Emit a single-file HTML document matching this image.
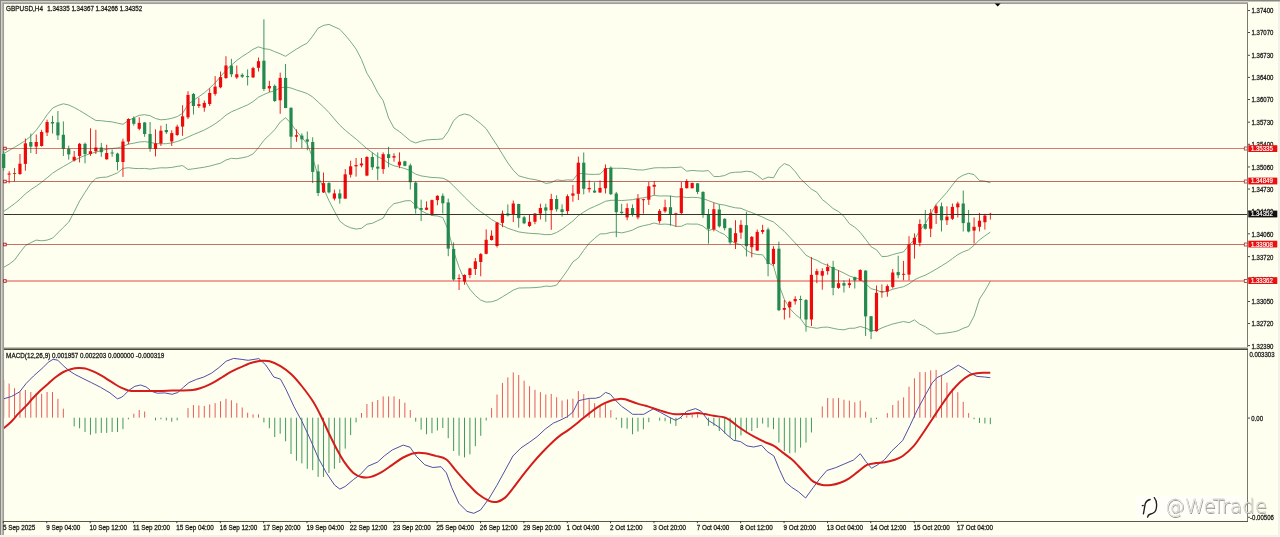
<!DOCTYPE html><html><head><meta charset="utf-8"><title>GBPUSD,H4</title><style>
html,body{margin:0;padding:0;width:1280px;height:537px;overflow:hidden;background:#fffff0;}
svg{display:block;will-change:transform;} text{font-family:"Liberation Sans",Arial,sans-serif;} .t{stroke:#1a1a1a;stroke-width:0.28px;} .w{stroke:#fff;stroke-width:0.2px;}
</style></head><body>
<svg width="1280" height="537" viewBox="0 0 1280 537">
<rect x="0" y="0" width="1280" height="537" fill="#fffff0"/>
<rect x="0" y="0" width="1280" height="1" fill="#898782"/>
<rect x="0" y="1" width="1248" height="1" fill="#d3d1ca"/>
<rect x="0" y="2" width="1248" height="1" fill="#b5b3ab"/>
<rect x="0" y="3" width="1248" height="1" fill="#9f9d95"/>
<rect x="1248" y="1" width="32" height="1" fill="#c4c2ba"/>
<rect x="0" y="0" width="1" height="537" fill="#898782"/>
<rect x="1" y="1" width="1" height="536" fill="#d3d1ca"/>
<rect x="2" y="2" width="1" height="535" fill="#b5b3ab"/>
<rect x="3" y="3" width="1" height="534" fill="#9f9d95"/>
<rect x="4" y="4" width="1" height="517" fill="#fbfbf4"/>
<rect x="4" y="4" width="1243" height="1" fill="#fbfbf4"/>
<rect x="1278" y="2" width="2" height="535" fill="#f3f2ea"/>
<rect x="0" y="535" width="1280" height="2" fill="#f3f3ee"/>
<defs><clipPath id="cm"><rect x="3" y="4" width="1244" height="343"/></clipPath>
<clipPath id="cs"><rect x="4" y="350" width="1243.5" height="171"/></clipPath></defs>
<g fill="none" stroke="#68a078" stroke-width="0.9">
<polyline points="3.7,153.6 9.1,150.5 14.5,147.3 20.0,144.0 25.4,140.6 30.8,136.1 36.2,130.2 41.6,122.9 47.1,114.8 52.5,108.2 57.9,105.5 63.3,103.8 68.8,105.0 74.2,107.5 79.6,110.5 85.0,113.8 90.4,117.2 95.9,120.5 101.3,120.7 106.7,121.4 112.1,121.9 117.5,123.1 123.0,124.3 128.4,120.5 133.8,117.9 139.2,115.3 144.6,114.7 150.1,115.7 155.5,118.5 160.9,119.8 166.3,119.4 171.8,118.3 177.2,116.6 182.6,113.3 188.0,104.5 193.4,100.5 198.9,96.6 204.3,92.9 209.7,88.1 215.1,82.9 220.5,76.7 226.0,70.2 231.4,65.2 236.8,60.4 242.2,56.5 247.6,53.1 253.1,49.3 258.5,46.8 263.9,48.7 269.3,49.4 274.8,51.7 280.2,53.8 285.6,56.3 291.0,52.6 296.4,49.1 301.9,45.9 307.3,43.0 312.7,36.1 318.1,28.2 323.5,25.4 329.0,24.4 334.4,26.9 339.8,29.3 345.2,35.1 350.6,41.6 356.1,49.1 361.5,59.5 366.9,73.2 372.3,81.9 377.7,92.7 383.2,100.7 388.6,118.0 394.0,128.0 399.4,131.6 404.9,136.2 410.3,140.8 415.7,143.0 421.1,141.2 426.5,140.0 432.0,139.5 437.4,139.4 442.8,138.8 448.2,131.4 453.6,120.6 459.1,115.6 464.5,114.0 469.9,115.3 475.3,119.5 480.7,123.6 486.2,128.7 491.6,137.1 497.0,145.3 502.4,154.2 507.9,163.0 513.3,170.2 518.7,175.8 524.1,177.4 529.5,178.8 535.0,179.6 540.4,180.9 545.8,183.4 551.2,182.6 556.6,179.9 562.1,180.5 567.5,179.9 572.9,180.1 578.3,173.4 583.7,173.8 589.2,174.3 594.6,174.4 600.0,174.1 605.4,168.8 610.9,168.2 616.3,168.3 621.7,168.3 627.1,168.6 632.5,169.3 638.0,169.9 643.4,170.0 648.8,168.9 654.2,167.9 659.6,167.7 665.1,167.8 670.5,167.6 675.9,167.5 681.3,167.0 686.7,171.2 692.2,170.4 697.6,170.9 703.0,171.1 708.4,170.6 713.9,176.5 719.3,176.5 724.7,175.5 730.1,172.9 735.5,172.2 741.0,172.1 746.4,171.2 751.8,171.9 757.2,175.2 762.6,179.5 768.1,177.1 773.5,177.8 778.9,168.3 784.3,163.6 789.7,165.7 795.2,171.6 800.6,178.9 806.0,184.0 811.4,189.1 816.9,192.3 822.3,199.5 827.7,203.8 833.1,208.6 838.5,211.5 844.0,216.4 849.4,223.7 854.8,227.2 860.2,232.3 865.6,239.2 871.1,246.8 876.5,249.8 881.9,256.6 887.3,256.3 892.7,254.6 898.2,253.2 903.6,251.8 909.0,245.1 914.4,239.7 919.8,230.4 925.3,223.7 930.7,214.2 936.1,204.4 941.5,198.3 947.0,192.2 952.4,185.1 957.8,178.3 963.2,175.2 968.6,173.3 974.1,174.6 979.5,180.6 984.9,181.1 990.3,182.8"/>
<polyline points="3.7,211.4 9.1,207.7 14.5,203.7 20.0,199.2 25.4,193.8 30.8,189.7 36.2,186.1 41.6,182.3 47.1,177.8 52.5,173.2 57.9,169.8 63.3,166.6 68.8,163.4 74.2,160.2 79.6,157.8 85.0,155.4 90.4,153.6 95.9,152.1 101.3,150.6 106.7,149.2 112.1,148.5 117.5,147.9 123.0,146.4 128.4,144.1 133.8,143.2 139.2,142.0 144.6,141.6 150.1,142.4 155.5,143.5 160.9,143.8 166.3,143.7 171.8,142.9 177.2,141.5 182.6,139.5 188.0,137.0 193.4,134.6 198.9,132.3 204.3,130.0 209.7,127.1 215.1,123.8 220.5,119.9 226.0,115.1 231.4,111.8 236.8,109.5 242.2,107.2 247.6,104.9 253.1,101.6 258.5,97.2 263.9,94.5 269.3,92.3 274.8,90.7 280.2,87.9 285.6,87.0 291.0,88.0 296.4,90.0 301.9,91.7 307.3,93.6 312.7,97.0 318.1,102.0 323.5,106.9 329.0,112.6 334.4,119.0 339.8,125.2 345.2,130.2 350.6,134.7 356.1,139.1 361.5,143.9 366.9,148.7 372.3,152.6 377.7,156.7 383.2,159.4 388.6,163.4 394.0,165.8 399.4,167.0 404.9,168.6 410.3,170.7 415.7,174.1 421.1,175.9 426.5,176.7 432.0,177.5 437.4,177.7 442.8,178.2 448.2,180.7 453.6,185.9 459.1,191.5 464.5,197.0 469.9,202.3 475.3,207.5 480.7,211.8 486.2,215.4 491.6,219.5 497.0,222.7 502.4,225.6 507.9,228.3 513.3,230.1 518.7,231.9 524.1,232.7 529.5,233.3 535.0,233.6 540.4,234.0 545.8,234.7 551.2,234.5 556.6,232.5 562.1,229.2 567.5,225.1 572.9,221.0 578.3,215.7 583.7,212.1 589.2,208.8 594.6,206.4 600.0,204.0 605.4,201.3 610.9,200.3 616.3,200.2 621.7,200.6 627.1,200.1 632.5,199.7 638.0,198.5 643.4,197.8 648.8,196.7 654.2,195.4 659.6,196.0 665.1,195.9 670.5,196.1 675.9,196.9 681.3,196.7 686.7,197.6 692.2,197.3 697.6,197.5 703.0,198.6 708.4,200.6 713.9,202.7 719.3,204.3 724.7,205.1 730.1,206.6 735.5,207.8 741.0,208.3 746.4,210.7 751.8,212.6 757.2,214.9 762.6,217.1 768.1,219.8 773.5,221.9 778.9,226.6 784.3,231.4 789.7,237.1 795.2,243.0 800.6,248.8 806.0,255.2 811.4,258.2 816.9,260.3 822.3,263.4 827.7,265.4 833.1,268.4 838.5,270.5 844.0,273.1 849.4,276.0 854.8,277.7 860.2,279.4 865.6,283.6 871.1,288.7 876.5,290.1 881.9,292.3 887.3,291.1 892.7,289.3 898.2,287.9 903.6,286.7 909.0,283.9 914.4,279.8 919.8,277.3 925.3,275.2 930.7,272.3 936.1,269.2 941.5,265.9 947.0,262.5 952.4,258.6 957.8,254.6 963.2,251.8 968.6,249.8 974.1,245.3 979.5,239.8 984.9,235.9 990.3,232.1"/>
<polyline points="3.7,267.3 9.1,264.2 14.5,260.1 20.0,252.5 25.4,245.6 30.8,242.7 36.2,240.1 41.6,240.8 47.1,240.1 52.5,238.2 57.9,232.8 63.3,227.4 68.8,222.0 74.2,211.8 79.6,201.0 85.0,192.4 90.4,184.0 95.9,178.4 101.3,177.4 106.7,177.1 112.1,175.1 117.5,172.8 123.0,168.4 128.4,167.7 133.8,168.4 139.2,168.6 144.6,168.4 150.1,169.1 155.5,168.4 160.9,167.8 166.3,167.9 171.8,167.4 177.2,166.4 182.6,165.6 188.0,169.5 193.4,168.8 198.9,168.0 204.3,167.2 209.7,166.1 215.1,164.6 220.5,163.2 226.0,160.0 231.4,158.3 236.8,158.7 242.2,157.8 247.6,156.6 253.1,153.9 258.5,147.6 263.9,140.3 269.3,135.1 274.8,129.7 280.2,122.0 285.6,117.7 291.0,123.5 296.4,131.0 301.9,137.5 307.3,144.1 312.7,158.0 318.1,175.9 323.5,188.3 329.0,200.8 334.4,211.1 339.8,221.1 345.2,225.4 350.6,227.8 356.1,229.1 361.5,228.3 366.9,224.2 372.3,223.3 377.7,220.7 383.2,218.1 388.6,208.7 394.0,203.6 399.4,202.5 404.9,200.9 410.3,200.6 415.7,205.1 421.1,210.7 426.5,213.4 432.0,215.5 437.4,216.0 442.8,217.5 448.2,230.0 453.6,251.3 459.1,267.4 464.5,280.0 469.9,289.3 475.3,295.5 480.7,300.1 486.2,302.1 491.6,301.8 497.0,300.1 502.4,296.9 507.9,293.5 513.3,290.1 518.7,288.0 524.1,287.9 529.5,287.8 535.0,287.6 540.4,287.1 545.8,286.1 551.2,286.4 556.6,285.1 562.1,277.8 567.5,270.2 572.9,261.9 578.3,258.0 583.7,250.3 589.2,243.2 594.6,238.4 600.0,233.9 605.4,233.8 610.9,232.4 616.3,232.0 621.7,232.9 627.1,231.7 632.5,230.1 638.0,227.2 643.4,225.7 648.8,224.6 654.2,223.0 659.6,224.4 665.1,224.1 670.5,224.5 675.9,226.4 681.3,226.3 686.7,223.9 692.2,224.1 697.6,224.1 703.0,226.1 708.4,230.6 713.9,228.9 719.3,232.1 724.7,234.6 730.1,240.2 735.5,243.4 741.0,244.6 746.4,250.2 751.8,253.3 757.2,254.5 762.6,254.8 768.1,262.5 773.5,265.9 778.9,284.9 784.3,299.2 789.7,308.4 795.2,314.3 800.6,318.7 806.0,326.4 811.4,327.4 816.9,328.3 822.3,327.3 827.7,327.1 833.1,328.3 838.5,329.4 844.0,329.8 849.4,328.3 854.8,328.2 860.2,326.5 865.6,328.0 871.1,330.6 876.5,330.5 881.9,327.9 887.3,325.8 892.7,324.0 898.2,322.7 903.6,321.5 909.0,322.7 914.4,319.9 919.8,324.2 925.3,326.6 930.7,330.4 936.1,334.1 941.5,333.5 947.0,332.9 952.4,332.1 957.8,330.9 963.2,328.3 968.6,326.4 974.1,316.0 979.5,299.0 984.9,290.8 990.3,281.3"/>
</g>
<rect x="3.25" y="151.0" width="0.9" height="19.7" fill="#23894f"/>
<rect x="2.10" y="154.0" width="3.2" height="14.0" fill="#23894f"/>
<rect x="8.67" y="171.2" width="0.9" height="12.1" fill="#ee0a0a"/>
<rect x="7.52" y="173.5" width="3.2" height="1.1" fill="#ee0a0a"/>
<rect x="14.09" y="167.9" width="0.9" height="13.5" fill="#c0401a"/>
<rect x="12.94" y="173.0" width="3.2" height="1.0" fill="#c0401a"/>
<rect x="19.51" y="154.0" width="0.9" height="20.9" fill="#ee0a0a"/>
<rect x="18.36" y="163.7" width="3.2" height="10.3" fill="#ee0a0a"/>
<rect x="24.93" y="138.5" width="0.9" height="32.2" fill="#ee0a0a"/>
<rect x="23.78" y="143.3" width="3.2" height="20.6" fill="#ee0a0a"/>
<rect x="30.36" y="133.5" width="0.9" height="19.5" fill="#23894f"/>
<rect x="29.20" y="142.0" width="3.2" height="4.6" fill="#23894f"/>
<rect x="35.78" y="134.5" width="0.9" height="19.5" fill="#ee0a0a"/>
<rect x="34.63" y="142.0" width="3.2" height="4.6" fill="#ee0a0a"/>
<rect x="41.20" y="129.8" width="0.9" height="16.8" fill="#ee0a0a"/>
<rect x="40.05" y="132.0" width="3.2" height="14.0" fill="#ee0a0a"/>
<rect x="46.62" y="119.6" width="0.9" height="16.4" fill="#ee0a0a"/>
<rect x="45.47" y="122.0" width="3.2" height="10.6" fill="#ee0a0a"/>
<rect x="52.04" y="115.8" width="0.9" height="17.7" fill="#23894f"/>
<rect x="50.89" y="122.0" width="3.2" height="1.5" fill="#23894f"/>
<rect x="57.46" y="111.0" width="0.9" height="29.0" fill="#23894f"/>
<rect x="56.31" y="122.4" width="3.2" height="13.0" fill="#23894f"/>
<rect x="62.88" y="121.4" width="0.9" height="34.6" fill="#23894f"/>
<rect x="61.73" y="134.8" width="3.2" height="14.0" fill="#23894f"/>
<rect x="68.30" y="145.6" width="0.9" height="14.0" fill="#23894f"/>
<rect x="67.15" y="148.8" width="3.2" height="5.6" fill="#23894f"/>
<rect x="73.72" y="151.0" width="0.9" height="10.5" fill="#ee0a0a"/>
<rect x="72.57" y="156.8" width="3.2" height="3.7" fill="#ee0a0a"/>
<rect x="79.14" y="142.9" width="0.9" height="19.5" fill="#ee0a0a"/>
<rect x="77.99" y="143.8" width="3.2" height="12.2" fill="#ee0a0a"/>
<rect x="84.56" y="142.5" width="0.9" height="20.8" fill="#23894f"/>
<rect x="83.42" y="143.8" width="3.2" height="10.2" fill="#23894f"/>
<rect x="89.99" y="128.3" width="0.9" height="27.6" fill="#ee0a0a"/>
<rect x="88.84" y="151.2" width="3.2" height="2.8" fill="#ee0a0a"/>
<rect x="95.41" y="129.8" width="0.9" height="24.2" fill="#ee0a0a"/>
<rect x="94.26" y="147.5" width="3.2" height="3.7" fill="#ee0a0a"/>
<rect x="100.83" y="142.9" width="0.9" height="13.9" fill="#23894f"/>
<rect x="99.68" y="147.5" width="3.2" height="4.7" fill="#23894f"/>
<rect x="106.25" y="144.7" width="0.9" height="14.9" fill="#ee0a0a"/>
<rect x="105.10" y="153.0" width="3.2" height="6.3" fill="#ee0a0a"/>
<rect x="111.67" y="149.4" width="0.9" height="7.4" fill="#23894f"/>
<rect x="110.52" y="152.5" width="3.2" height="1.0" fill="#23894f"/>
<rect x="117.09" y="152.7" width="0.9" height="17.7" fill="#23894f"/>
<rect x="115.94" y="153.6" width="3.2" height="8.4" fill="#23894f"/>
<rect x="122.51" y="138.7" width="0.9" height="38.2" fill="#ee0a0a"/>
<rect x="121.36" y="141.5" width="3.2" height="20.5" fill="#ee0a0a"/>
<rect x="127.93" y="118.2" width="0.9" height="26.1" fill="#ee0a0a"/>
<rect x="126.78" y="119.0" width="3.2" height="22.5" fill="#ee0a0a"/>
<rect x="133.35" y="116.3" width="0.9" height="9.3" fill="#23894f"/>
<rect x="132.20" y="118.2" width="3.2" height="5.6" fill="#23894f"/>
<rect x="138.78" y="117.3" width="0.9" height="13.0" fill="#ee0a0a"/>
<rect x="137.62" y="122.9" width="3.2" height="5.9" fill="#ee0a0a"/>
<rect x="144.20" y="122.0" width="0.9" height="14.8" fill="#23894f"/>
<rect x="143.05" y="122.5" width="3.2" height="11.5" fill="#23894f"/>
<rect x="149.62" y="122.0" width="0.9" height="29.7" fill="#23894f"/>
<rect x="148.47" y="134.0" width="3.2" height="14.6" fill="#23894f"/>
<rect x="155.04" y="129.4" width="0.9" height="27.0" fill="#ee0a0a"/>
<rect x="153.89" y="143.4" width="3.2" height="5.6" fill="#ee0a0a"/>
<rect x="160.46" y="125.6" width="0.9" height="20.4" fill="#ee0a0a"/>
<rect x="159.31" y="130.7" width="3.2" height="12.7" fill="#ee0a0a"/>
<rect x="165.88" y="123.8" width="0.9" height="10.2" fill="#23894f"/>
<rect x="164.73" y="130.0" width="3.2" height="2.2" fill="#23894f"/>
<rect x="171.30" y="130.3" width="0.9" height="15.7" fill="#ee0a0a"/>
<rect x="170.15" y="133.1" width="3.2" height="8.4" fill="#ee0a0a"/>
<rect x="176.72" y="124.7" width="0.9" height="11.2" fill="#ee0a0a"/>
<rect x="175.57" y="126.6" width="3.2" height="8.4" fill="#ee0a0a"/>
<rect x="182.14" y="105.2" width="0.9" height="30.7" fill="#ee0a0a"/>
<rect x="180.99" y="116.3" width="3.2" height="10.3" fill="#ee0a0a"/>
<rect x="187.56" y="91.2" width="0.9" height="27.9" fill="#ee0a0a"/>
<rect x="186.41" y="94.9" width="3.2" height="22.4" fill="#ee0a0a"/>
<rect x="192.99" y="93.0" width="0.9" height="21.5" fill="#23894f"/>
<rect x="191.84" y="94.0" width="3.2" height="12.0" fill="#23894f"/>
<rect x="198.41" y="97.7" width="0.9" height="10.3" fill="#ee0a0a"/>
<rect x="197.26" y="104.2" width="3.2" height="1.8" fill="#ee0a0a"/>
<rect x="203.83" y="100.5" width="0.9" height="11.2" fill="#ee0a0a"/>
<rect x="202.68" y="102.9" width="3.2" height="4.7" fill="#ee0a0a"/>
<rect x="209.25" y="88.3" width="0.9" height="17.7" fill="#ee0a0a"/>
<rect x="208.10" y="93.0" width="3.2" height="11.0" fill="#ee0a0a"/>
<rect x="214.67" y="76.1" width="0.9" height="19.6" fill="#ee0a0a"/>
<rect x="213.52" y="86.6" width="3.2" height="7.3" fill="#ee0a0a"/>
<rect x="220.09" y="71.5" width="0.9" height="16.8" fill="#ee0a0a"/>
<rect x="218.94" y="77.1" width="3.2" height="10.2" fill="#ee0a0a"/>
<rect x="225.51" y="56.2" width="0.9" height="22.7" fill="#ee0a0a"/>
<rect x="224.36" y="65.5" width="3.2" height="12.5" fill="#ee0a0a"/>
<rect x="230.93" y="58.8" width="0.9" height="18.3" fill="#23894f"/>
<rect x="229.78" y="65.5" width="3.2" height="8.8" fill="#23894f"/>
<rect x="236.35" y="65.5" width="0.9" height="13.4" fill="#ee0a0a"/>
<rect x="235.20" y="74.3" width="3.2" height="3.1" fill="#ee0a0a"/>
<rect x="241.77" y="73.3" width="0.9" height="4.7" fill="#23894f"/>
<rect x="240.62" y="74.8" width="3.2" height="1.9" fill="#23894f"/>
<rect x="247.20" y="69.3" width="0.9" height="16.2" fill="#23894f"/>
<rect x="246.05" y="76.1" width="3.2" height="1.0" fill="#23894f"/>
<rect x="252.62" y="66.8" width="0.9" height="11.2" fill="#ee0a0a"/>
<rect x="251.47" y="68.1" width="3.2" height="9.3" fill="#ee0a0a"/>
<rect x="258.04" y="57.5" width="0.9" height="14.0" fill="#ee0a0a"/>
<rect x="256.89" y="61.2" width="3.2" height="6.6" fill="#ee0a0a"/>
<rect x="263.46" y="19.3" width="0.9" height="71.7" fill="#23894f"/>
<rect x="262.31" y="60.7" width="3.2" height="28.3" fill="#23894f"/>
<rect x="268.88" y="80.8" width="0.9" height="11.2" fill="#ee0a0a"/>
<rect x="267.73" y="86.0" width="3.2" height="2.4" fill="#ee0a0a"/>
<rect x="274.30" y="84.5" width="0.9" height="17.5" fill="#23894f"/>
<rect x="273.15" y="85.9" width="3.2" height="15.1" fill="#23894f"/>
<rect x="279.72" y="72.6" width="0.9" height="41.2" fill="#ee0a0a"/>
<rect x="278.57" y="77.9" width="3.2" height="22.4" fill="#ee0a0a"/>
<rect x="285.14" y="64.0" width="0.9" height="44.2" fill="#23894f"/>
<rect x="283.99" y="77.9" width="3.2" height="30.1" fill="#23894f"/>
<rect x="290.56" y="107.3" width="0.9" height="41.0" fill="#23894f"/>
<rect x="289.41" y="107.8" width="3.2" height="28.9" fill="#23894f"/>
<rect x="295.98" y="129.3" width="0.9" height="12.4" fill="#ee0a0a"/>
<rect x="294.83" y="135.2" width="3.2" height="1.5" fill="#ee0a0a"/>
<rect x="301.41" y="133.4" width="0.9" height="14.9" fill="#23894f"/>
<rect x="300.25" y="135.6" width="3.2" height="3.7" fill="#23894f"/>
<rect x="306.83" y="131.5" width="0.9" height="18.8" fill="#23894f"/>
<rect x="305.68" y="139.3" width="3.2" height="2.4" fill="#23894f"/>
<rect x="312.25" y="137.3" width="0.9" height="45.8" fill="#23894f"/>
<rect x="311.10" y="142.0" width="3.2" height="29.9" fill="#23894f"/>
<rect x="317.67" y="164.5" width="0.9" height="31.6" fill="#23894f"/>
<rect x="316.52" y="171.4" width="3.2" height="21.6" fill="#23894f"/>
<rect x="323.09" y="172.5" width="0.9" height="20.5" fill="#ee0a0a"/>
<rect x="321.94" y="183.1" width="3.2" height="9.3" fill="#ee0a0a"/>
<rect x="328.51" y="182.2" width="0.9" height="11.2" fill="#23894f"/>
<rect x="327.36" y="183.1" width="3.2" height="9.3" fill="#23894f"/>
<rect x="333.93" y="189.6" width="0.9" height="10.8" fill="#ee0a0a"/>
<rect x="332.78" y="193.4" width="3.2" height="5.2" fill="#ee0a0a"/>
<rect x="339.35" y="189.3" width="0.9" height="14.3" fill="#23894f"/>
<rect x="338.20" y="193.4" width="3.2" height="5.2" fill="#23894f"/>
<rect x="344.77" y="169.1" width="0.9" height="29.8" fill="#ee0a0a"/>
<rect x="343.62" y="174.3" width="3.2" height="24.3" fill="#ee0a0a"/>
<rect x="350.19" y="160.7" width="0.9" height="16.8" fill="#ee0a0a"/>
<rect x="349.04" y="166.3" width="3.2" height="8.4" fill="#ee0a0a"/>
<rect x="355.62" y="158.0" width="0.9" height="18.6" fill="#ee0a0a"/>
<rect x="354.46" y="165.0" width="3.2" height="1.3" fill="#ee0a0a"/>
<rect x="361.04" y="158.0" width="0.9" height="9.3" fill="#ee0a0a"/>
<rect x="359.89" y="163.5" width="3.2" height="1.9" fill="#ee0a0a"/>
<rect x="366.46" y="156.1" width="0.9" height="20.1" fill="#ee0a0a"/>
<rect x="365.31" y="157.0" width="3.2" height="18.6" fill="#ee0a0a"/>
<rect x="371.88" y="152.4" width="0.9" height="17.6" fill="#23894f"/>
<rect x="370.73" y="157.0" width="3.2" height="10.3" fill="#23894f"/>
<rect x="377.30" y="152.4" width="0.9" height="27.9" fill="#23894f"/>
<rect x="376.15" y="166.7" width="3.2" height="1.9" fill="#23894f"/>
<rect x="382.72" y="152.4" width="0.9" height="21.4" fill="#ee0a0a"/>
<rect x="381.57" y="154.2" width="3.2" height="14.9" fill="#ee0a0a"/>
<rect x="388.14" y="146.8" width="0.9" height="20.5" fill="#23894f"/>
<rect x="386.99" y="154.2" width="3.2" height="3.8" fill="#23894f"/>
<rect x="393.56" y="153.3" width="0.9" height="8.4" fill="#ee0a0a"/>
<rect x="392.41" y="156.1" width="3.2" height="1.5" fill="#ee0a0a"/>
<rect x="398.98" y="152.4" width="0.9" height="15.8" fill="#ee0a0a"/>
<rect x="397.83" y="161.7" width="3.2" height="3.7" fill="#ee0a0a"/>
<rect x="404.40" y="160.7" width="0.9" height="5.6" fill="#23894f"/>
<rect x="403.25" y="161.3" width="3.2" height="4.5" fill="#23894f"/>
<rect x="409.83" y="163.5" width="0.9" height="26.0" fill="#23894f"/>
<rect x="408.68" y="165.4" width="3.2" height="16.8" fill="#23894f"/>
<rect x="415.25" y="181.2" width="0.9" height="32.4" fill="#23894f"/>
<rect x="414.10" y="182.6" width="3.2" height="26.0" fill="#23894f"/>
<rect x="420.67" y="199.6" width="0.9" height="21.4" fill="#23894f"/>
<rect x="419.52" y="208.0" width="3.2" height="1.8" fill="#23894f"/>
<rect x="426.09" y="201.4" width="0.9" height="8.8" fill="#ee0a0a"/>
<rect x="424.94" y="207.6" width="3.2" height="2.2" fill="#ee0a0a"/>
<rect x="431.51" y="199.6" width="0.9" height="15.8" fill="#ee0a0a"/>
<rect x="430.36" y="200.1" width="3.2" height="14.4" fill="#ee0a0a"/>
<rect x="436.93" y="195.3" width="0.9" height="9.9" fill="#ee0a0a"/>
<rect x="435.78" y="195.8" width="3.2" height="4.3" fill="#ee0a0a"/>
<rect x="442.35" y="193.4" width="0.9" height="20.1" fill="#23894f"/>
<rect x="441.20" y="195.8" width="3.2" height="7.5" fill="#23894f"/>
<rect x="447.77" y="198.6" width="0.9" height="57.6" fill="#23894f"/>
<rect x="446.62" y="202.4" width="3.2" height="46.2" fill="#23894f"/>
<rect x="453.19" y="242.4" width="0.9" height="38.4" fill="#23894f"/>
<rect x="452.04" y="248.9" width="3.2" height="30.6" fill="#23894f"/>
<rect x="458.61" y="274.3" width="0.9" height="15.7" fill="#ee0a0a"/>
<rect x="457.46" y="278.0" width="3.2" height="1.0" fill="#ee0a0a"/>
<rect x="464.04" y="274.3" width="0.9" height="10.4" fill="#ee0a0a"/>
<rect x="462.88" y="275.0" width="3.2" height="6.5" fill="#ee0a0a"/>
<rect x="469.46" y="267.8" width="0.9" height="10.4" fill="#ee0a0a"/>
<rect x="468.31" y="268.4" width="3.2" height="6.6" fill="#ee0a0a"/>
<rect x="474.88" y="258.0" width="0.9" height="17.0" fill="#ee0a0a"/>
<rect x="473.73" y="261.3" width="3.2" height="7.7" fill="#ee0a0a"/>
<rect x="480.30" y="253.0" width="0.9" height="23.3" fill="#ee0a0a"/>
<rect x="479.15" y="254.1" width="3.2" height="7.9" fill="#ee0a0a"/>
<rect x="485.72" y="229.4" width="0.9" height="24.9" fill="#ee0a0a"/>
<rect x="484.57" y="239.8" width="3.2" height="14.0" fill="#ee0a0a"/>
<rect x="491.14" y="230.3" width="0.9" height="10.3" fill="#ee0a0a"/>
<rect x="489.99" y="235.7" width="3.2" height="4.3" fill="#ee0a0a"/>
<rect x="496.56" y="221.9" width="0.9" height="25.6" fill="#ee0a0a"/>
<rect x="495.41" y="222.5" width="3.2" height="23.5" fill="#ee0a0a"/>
<rect x="501.98" y="210.5" width="0.9" height="16.7" fill="#ee0a0a"/>
<rect x="500.83" y="213.6" width="3.2" height="9.3" fill="#ee0a0a"/>
<rect x="507.40" y="204.4" width="0.9" height="12.1" fill="#23894f"/>
<rect x="506.25" y="213.4" width="3.2" height="2.0" fill="#23894f"/>
<rect x="512.82" y="200.5" width="0.9" height="21.6" fill="#ee0a0a"/>
<rect x="511.67" y="203.5" width="3.2" height="10.9" fill="#ee0a0a"/>
<rect x="518.25" y="203.7" width="0.9" height="24.0" fill="#23894f"/>
<rect x="517.10" y="204.0" width="3.2" height="14.1" fill="#23894f"/>
<rect x="523.67" y="215.8" width="0.9" height="8.4" fill="#23894f"/>
<rect x="522.52" y="217.3" width="3.2" height="6.0" fill="#23894f"/>
<rect x="529.09" y="214.0" width="0.9" height="13.0" fill="#ee0a0a"/>
<rect x="527.94" y="221.8" width="3.2" height="4.2" fill="#ee0a0a"/>
<rect x="534.51" y="213.0" width="0.9" height="11.2" fill="#ee0a0a"/>
<rect x="533.36" y="213.6" width="3.2" height="8.2" fill="#ee0a0a"/>
<rect x="539.93" y="203.7" width="0.9" height="15.8" fill="#ee0a0a"/>
<rect x="538.78" y="208.0" width="3.2" height="5.6" fill="#ee0a0a"/>
<rect x="545.35" y="203.7" width="0.9" height="18.1" fill="#23894f"/>
<rect x="544.20" y="207.4" width="3.2" height="3.2" fill="#23894f"/>
<rect x="550.77" y="193.8" width="0.9" height="36.0" fill="#ee0a0a"/>
<rect x="549.62" y="199.0" width="3.2" height="11.2" fill="#ee0a0a"/>
<rect x="556.19" y="195.3" width="0.9" height="16.4" fill="#23894f"/>
<rect x="555.04" y="199.0" width="3.2" height="10.3" fill="#23894f"/>
<rect x="561.61" y="204.3" width="0.9" height="12.4" fill="#23894f"/>
<rect x="560.46" y="209.3" width="3.2" height="2.7" fill="#23894f"/>
<rect x="567.03" y="194.4" width="0.9" height="20.5" fill="#ee0a0a"/>
<rect x="565.88" y="196.2" width="3.2" height="14.9" fill="#ee0a0a"/>
<rect x="572.46" y="185.0" width="0.9" height="16.8" fill="#ee0a0a"/>
<rect x="571.31" y="193.4" width="3.2" height="2.3" fill="#ee0a0a"/>
<rect x="577.88" y="156.6" width="0.9" height="43.4" fill="#ee0a0a"/>
<rect x="576.73" y="162.7" width="3.2" height="31.1" fill="#ee0a0a"/>
<rect x="583.30" y="152.5" width="0.9" height="41.9" fill="#23894f"/>
<rect x="582.15" y="162.7" width="3.2" height="26.1" fill="#23894f"/>
<rect x="588.72" y="180.4" width="0.9" height="12.1" fill="#ee0a0a"/>
<rect x="587.57" y="187.9" width="3.2" height="1.4" fill="#ee0a0a"/>
<rect x="594.14" y="182.3" width="0.9" height="10.7" fill="#23894f"/>
<rect x="592.99" y="190.6" width="3.2" height="1.9" fill="#23894f"/>
<rect x="599.56" y="180.4" width="0.9" height="12.6" fill="#ee0a0a"/>
<rect x="598.41" y="187.9" width="3.2" height="4.6" fill="#ee0a0a"/>
<rect x="604.98" y="164.4" width="0.9" height="29.1" fill="#ee0a0a"/>
<rect x="603.83" y="168.2" width="3.2" height="20.1" fill="#ee0a0a"/>
<rect x="610.40" y="166.3" width="0.9" height="28.7" fill="#23894f"/>
<rect x="609.25" y="167.8" width="3.2" height="26.4" fill="#23894f"/>
<rect x="615.82" y="191.9" width="0.9" height="45.2" fill="#23894f"/>
<rect x="614.67" y="193.5" width="3.2" height="18.7" fill="#23894f"/>
<rect x="621.24" y="203.8" width="0.9" height="9.9" fill="#23894f"/>
<rect x="620.09" y="211.8" width="3.2" height="1.3" fill="#23894f"/>
<rect x="626.67" y="203.4" width="0.9" height="16.8" fill="#ee0a0a"/>
<rect x="625.52" y="208.1" width="3.2" height="9.3" fill="#ee0a0a"/>
<rect x="632.09" y="204.4" width="0.9" height="12.1" fill="#23894f"/>
<rect x="630.94" y="208.1" width="3.2" height="6.2" fill="#23894f"/>
<rect x="637.51" y="194.1" width="0.9" height="25.2" fill="#ee0a0a"/>
<rect x="636.36" y="198.8" width="3.2" height="18.6" fill="#ee0a0a"/>
<rect x="642.93" y="198.8" width="0.9" height="14.9" fill="#ee0a0a"/>
<rect x="641.78" y="199.2" width="3.2" height="1.0" fill="#ee0a0a"/>
<rect x="648.35" y="182.0" width="0.9" height="22.9" fill="#ee0a0a"/>
<rect x="647.20" y="186.3" width="3.2" height="13.4" fill="#ee0a0a"/>
<rect x="653.77" y="181.1" width="0.9" height="13.9" fill="#ee0a0a"/>
<rect x="652.62" y="184.8" width="3.2" height="1.9" fill="#ee0a0a"/>
<rect x="659.19" y="209.0" width="0.9" height="14.6" fill="#ee0a0a"/>
<rect x="658.04" y="210.9" width="3.2" height="10.2" fill="#ee0a0a"/>
<rect x="664.61" y="199.7" width="0.9" height="13.1" fill="#ee0a0a"/>
<rect x="663.46" y="207.2" width="3.2" height="4.1" fill="#ee0a0a"/>
<rect x="670.03" y="195.6" width="0.9" height="30.2" fill="#23894f"/>
<rect x="668.88" y="207.2" width="3.2" height="7.4" fill="#23894f"/>
<rect x="675.45" y="212.8" width="0.9" height="13.9" fill="#ee0a0a"/>
<rect x="674.30" y="213.3" width="3.2" height="1.7" fill="#ee0a0a"/>
<rect x="680.88" y="182.0" width="0.9" height="32.3" fill="#ee0a0a"/>
<rect x="679.73" y="188.2" width="3.2" height="24.9" fill="#ee0a0a"/>
<rect x="686.30" y="179.2" width="0.9" height="9.3" fill="#ee0a0a"/>
<rect x="685.15" y="181.1" width="3.2" height="7.1" fill="#ee0a0a"/>
<rect x="691.72" y="182.6" width="0.9" height="5.9" fill="#ee0a0a"/>
<rect x="690.57" y="183.0" width="3.2" height="5.2" fill="#ee0a0a"/>
<rect x="697.14" y="183.0" width="0.9" height="11.1" fill="#23894f"/>
<rect x="695.99" y="183.3" width="3.2" height="8.6" fill="#23894f"/>
<rect x="702.56" y="191.3" width="0.9" height="26.5" fill="#23894f"/>
<rect x="701.41" y="191.9" width="3.2" height="22.5" fill="#23894f"/>
<rect x="707.98" y="209.0" width="0.9" height="34.7" fill="#23894f"/>
<rect x="706.83" y="214.0" width="3.2" height="14.8" fill="#23894f"/>
<rect x="713.40" y="202.7" width="0.9" height="28.6" fill="#ee0a0a"/>
<rect x="712.25" y="209.2" width="3.2" height="20.2" fill="#ee0a0a"/>
<rect x="718.82" y="204.3" width="0.9" height="23.3" fill="#23894f"/>
<rect x="717.67" y="209.5" width="3.2" height="16.8" fill="#23894f"/>
<rect x="724.24" y="218.3" width="0.9" height="12.1" fill="#23894f"/>
<rect x="723.09" y="218.8" width="3.2" height="9.4" fill="#23894f"/>
<rect x="729.66" y="227.6" width="0.9" height="16.8" fill="#23894f"/>
<rect x="728.51" y="228.2" width="3.2" height="14.3" fill="#23894f"/>
<rect x="735.09" y="220.2" width="0.9" height="28.8" fill="#ee0a0a"/>
<rect x="733.94" y="233.2" width="3.2" height="9.3" fill="#ee0a0a"/>
<rect x="740.51" y="220.2" width="0.9" height="18.6" fill="#ee0a0a"/>
<rect x="739.36" y="224.8" width="3.2" height="7.8" fill="#ee0a0a"/>
<rect x="745.93" y="211.8" width="0.9" height="44.7" fill="#23894f"/>
<rect x="744.78" y="225.2" width="3.2" height="21.0" fill="#23894f"/>
<rect x="751.35" y="236.0" width="0.9" height="21.4" fill="#ee0a0a"/>
<rect x="750.20" y="236.9" width="3.2" height="10.3" fill="#ee0a0a"/>
<rect x="756.77" y="229.5" width="0.9" height="21.4" fill="#ee0a0a"/>
<rect x="755.62" y="231.9" width="3.2" height="18.6" fill="#ee0a0a"/>
<rect x="762.19" y="224.8" width="0.9" height="9.3" fill="#ee0a0a"/>
<rect x="761.04" y="230.0" width="3.2" height="1.9" fill="#ee0a0a"/>
<rect x="767.61" y="227.6" width="0.9" height="48.7" fill="#23894f"/>
<rect x="766.46" y="229.5" width="3.2" height="34.5" fill="#23894f"/>
<rect x="773.03" y="246.2" width="0.9" height="19.6" fill="#ee0a0a"/>
<rect x="771.88" y="248.8" width="3.2" height="15.2" fill="#ee0a0a"/>
<rect x="778.45" y="241.6" width="0.9" height="69.5" fill="#23894f"/>
<rect x="777.30" y="248.7" width="3.2" height="61.5" fill="#23894f"/>
<rect x="783.87" y="300.0" width="0.9" height="19.5" fill="#ee0a0a"/>
<rect x="782.72" y="308.0" width="3.2" height="1.8" fill="#ee0a0a"/>
<rect x="789.30" y="300.9" width="0.9" height="16.8" fill="#ee0a0a"/>
<rect x="788.15" y="301.8" width="3.2" height="5.6" fill="#ee0a0a"/>
<rect x="794.72" y="296.2" width="0.9" height="8.4" fill="#ee0a0a"/>
<rect x="793.57" y="299.0" width="3.2" height="2.3" fill="#ee0a0a"/>
<rect x="800.14" y="295.7" width="0.9" height="22.9" fill="#23894f"/>
<rect x="798.99" y="299.0" width="3.2" height="1.0" fill="#23894f"/>
<rect x="805.56" y="299.0" width="0.9" height="32.6" fill="#23894f"/>
<rect x="804.41" y="300.0" width="3.2" height="19.5" fill="#23894f"/>
<rect x="810.98" y="257.1" width="0.9" height="68.9" fill="#ee0a0a"/>
<rect x="809.83" y="274.8" width="3.2" height="44.7" fill="#ee0a0a"/>
<rect x="816.40" y="268.8" width="0.9" height="14.4" fill="#ee0a0a"/>
<rect x="815.25" y="271.1" width="3.2" height="3.7" fill="#ee0a0a"/>
<rect x="821.82" y="268.3" width="0.9" height="21.4" fill="#ee0a0a"/>
<rect x="820.67" y="271.1" width="3.2" height="4.6" fill="#ee0a0a"/>
<rect x="827.24" y="263.6" width="0.9" height="11.2" fill="#ee0a0a"/>
<rect x="826.09" y="267.0" width="3.2" height="4.1" fill="#ee0a0a"/>
<rect x="832.66" y="260.8" width="0.9" height="34.5" fill="#23894f"/>
<rect x="831.51" y="267.0" width="3.2" height="20.9" fill="#23894f"/>
<rect x="838.08" y="270.2" width="0.9" height="18.6" fill="#ee0a0a"/>
<rect x="836.93" y="283.2" width="3.2" height="4.7" fill="#ee0a0a"/>
<rect x="843.50" y="280.4" width="0.9" height="12.1" fill="#23894f"/>
<rect x="842.36" y="283.2" width="3.2" height="2.4" fill="#23894f"/>
<rect x="848.93" y="278.5" width="0.9" height="9.4" fill="#ee0a0a"/>
<rect x="847.78" y="283.2" width="3.2" height="1.9" fill="#ee0a0a"/>
<rect x="854.35" y="276.7" width="0.9" height="11.8" fill="#23894f"/>
<rect x="853.20" y="277.2" width="3.2" height="3.2" fill="#23894f"/>
<rect x="859.77" y="269.2" width="0.9" height="11.6" fill="#ee0a0a"/>
<rect x="858.62" y="270.0" width="3.2" height="10.5" fill="#ee0a0a"/>
<rect x="865.19" y="270.2" width="0.9" height="65.8" fill="#23894f"/>
<rect x="864.04" y="270.6" width="3.2" height="45.8" fill="#23894f"/>
<rect x="870.61" y="316.2" width="0.9" height="22.9" fill="#23894f"/>
<rect x="869.46" y="316.2" width="3.2" height="15.4" fill="#23894f"/>
<rect x="876.03" y="285.5" width="0.9" height="46.1" fill="#ee0a0a"/>
<rect x="874.88" y="292.8" width="3.2" height="38.4" fill="#ee0a0a"/>
<rect x="881.45" y="284.4" width="0.9" height="13.3" fill="#c0401a"/>
<rect x="880.30" y="291.0" width="3.2" height="1.2" fill="#c0401a"/>
<rect x="886.87" y="284.4" width="0.9" height="12.3" fill="#ee0a0a"/>
<rect x="885.72" y="286.1" width="3.2" height="5.5" fill="#ee0a0a"/>
<rect x="892.29" y="269.0" width="0.9" height="19.5" fill="#ee0a0a"/>
<rect x="891.14" y="272.5" width="3.2" height="14.4" fill="#ee0a0a"/>
<rect x="897.72" y="255.7" width="0.9" height="22.6" fill="#23894f"/>
<rect x="896.57" y="272.1" width="3.2" height="3.1" fill="#23894f"/>
<rect x="903.14" y="260.9" width="0.9" height="19.4" fill="#ee0a0a"/>
<rect x="901.99" y="273.8" width="3.2" height="1.0" fill="#ee0a0a"/>
<rect x="908.56" y="236.2" width="0.9" height="44.1" fill="#ee0a0a"/>
<rect x="907.41" y="244.5" width="3.2" height="30.1" fill="#ee0a0a"/>
<rect x="913.98" y="233.4" width="0.9" height="25.2" fill="#ee0a0a"/>
<rect x="912.83" y="237.9" width="3.2" height="6.1" fill="#ee0a0a"/>
<rect x="919.40" y="219.4" width="0.9" height="27.0" fill="#ee0a0a"/>
<rect x="918.25" y="224.0" width="3.2" height="18.7" fill="#ee0a0a"/>
<rect x="924.82" y="210.0" width="0.9" height="19.6" fill="#23894f"/>
<rect x="923.67" y="224.0" width="3.2" height="4.7" fill="#23894f"/>
<rect x="930.24" y="209.1" width="0.9" height="28.0" fill="#ee0a0a"/>
<rect x="929.09" y="213.2" width="3.2" height="15.5" fill="#ee0a0a"/>
<rect x="935.66" y="204.5" width="0.9" height="19.5" fill="#ee0a0a"/>
<rect x="934.51" y="206.3" width="3.2" height="6.9" fill="#ee0a0a"/>
<rect x="941.08" y="202.6" width="0.9" height="28.9" fill="#23894f"/>
<rect x="939.93" y="206.3" width="3.2" height="14.0" fill="#23894f"/>
<rect x="946.50" y="206.3" width="0.9" height="18.7" fill="#ee0a0a"/>
<rect x="945.35" y="216.6" width="3.2" height="3.7" fill="#ee0a0a"/>
<rect x="951.93" y="203.5" width="0.9" height="16.5" fill="#ee0a0a"/>
<rect x="950.78" y="206.9" width="3.2" height="11.9" fill="#ee0a0a"/>
<rect x="957.35" y="201.7" width="0.9" height="15.8" fill="#ee0a0a"/>
<rect x="956.20" y="203.5" width="3.2" height="3.8" fill="#ee0a0a"/>
<rect x="962.77" y="190.5" width="0.9" height="41.0" fill="#23894f"/>
<rect x="961.62" y="203.5" width="3.2" height="19.6" fill="#23894f"/>
<rect x="968.19" y="210.0" width="0.9" height="22.4" fill="#23894f"/>
<rect x="967.04" y="222.5" width="3.2" height="9.0" fill="#23894f"/>
<rect x="973.61" y="217.5" width="0.9" height="26.1" fill="#ee0a0a"/>
<rect x="972.46" y="226.8" width="3.2" height="3.8" fill="#ee0a0a"/>
<rect x="979.03" y="212.9" width="0.9" height="18.6" fill="#ee0a0a"/>
<rect x="977.88" y="220.7" width="3.2" height="6.1" fill="#ee0a0a"/>
<rect x="984.45" y="213.8" width="0.9" height="15.8" fill="#ee0a0a"/>
<rect x="983.30" y="215.6" width="3.2" height="6.6" fill="#ee0a0a"/>
<rect x="989.87" y="212.8" width="0.9" height="6.8" fill="#ee0a0a"/>
<rect x="988.72" y="213.8" width="3.2" height="1.1" fill="#ee0a0a"/>
<rect x="4" y="148" width="1244" height="1" fill="rgb(180,0,0)" fill-opacity="0.52"/>
<rect x="4" y="181" width="1244" height="1" fill="rgb(150,0,0)" fill-opacity="0.58"/>
<rect x="4" y="244" width="1244" height="1" fill="rgb(155,0,0)" fill-opacity="0.56"/>
<rect x="4" y="280" width="1244" height="2" fill="rgb(214,0,0)" fill-opacity="0.36"/>
<rect x="4" y="214" width="1244" height="1" fill="#35352c"/>
</g>
<g clip-path="url(#cs)">
<rect x="3.20" y="379.8" width="1" height="37.9" fill="#e85a5a"/>
<rect x="8.62" y="383.5" width="1" height="34.2" fill="#e85a5a"/>
<rect x="14.04" y="388.2" width="1" height="29.5" fill="#e85a5a"/>
<rect x="19.46" y="391.4" width="1" height="26.3" fill="#e85a5a"/>
<rect x="24.88" y="390.0" width="1" height="27.7" fill="#e85a5a"/>
<rect x="30.30" y="392.0" width="1" height="25.7" fill="#e85a5a"/>
<rect x="35.73" y="392.9" width="1" height="24.8" fill="#e85a5a"/>
<rect x="41.15" y="393.8" width="1" height="23.9" fill="#e85a5a"/>
<rect x="46.57" y="392.0" width="1" height="25.7" fill="#e85a5a"/>
<rect x="51.99" y="392.0" width="1" height="25.7" fill="#e85a5a"/>
<rect x="57.41" y="398.8" width="1" height="18.9" fill="#e85a5a"/>
<rect x="62.83" y="408.7" width="1" height="9.0" fill="#e85a5a"/>
<rect x="73.67" y="417.7" width="1" height="8.7" fill="#3d9a5a"/>
<rect x="79.09" y="417.7" width="1" height="10.6" fill="#3d9a5a"/>
<rect x="84.52" y="417.7" width="1" height="14.3" fill="#3d9a5a"/>
<rect x="89.94" y="417.7" width="1" height="17.1" fill="#3d9a5a"/>
<rect x="95.36" y="417.7" width="1" height="15.8" fill="#3d9a5a"/>
<rect x="100.78" y="417.7" width="1" height="15.2" fill="#3d9a5a"/>
<rect x="106.20" y="417.7" width="1" height="15.2" fill="#3d9a5a"/>
<rect x="111.62" y="417.7" width="1" height="14.3" fill="#3d9a5a"/>
<rect x="117.04" y="417.7" width="1" height="14.3" fill="#3d9a5a"/>
<rect x="122.46" y="417.7" width="1" height="11.5" fill="#3d9a5a"/>
<rect x="127.88" y="417.7" width="1" height="1.6" fill="#3d9a5a"/>
<rect x="133.30" y="413.7" width="1" height="4.0" fill="#e85a5a"/>
<rect x="138.72" y="410.0" width="1" height="7.7" fill="#e85a5a"/>
<rect x="144.15" y="411.5" width="1" height="6.2" fill="#e85a5a"/>
<rect x="154.99" y="417.7" width="1" height="2.7" fill="#3d9a5a"/>
<rect x="160.41" y="417.7" width="1" height="1.6" fill="#3d9a5a"/>
<rect x="165.83" y="417.7" width="1" height="2.7" fill="#3d9a5a"/>
<rect x="171.25" y="417.7" width="1" height="4.0" fill="#3d9a5a"/>
<rect x="176.67" y="417.7" width="1" height="2.7" fill="#3d9a5a"/>
<rect x="187.51" y="408.1" width="1" height="9.6" fill="#e85a5a"/>
<rect x="192.94" y="405.0" width="1" height="12.7" fill="#e85a5a"/>
<rect x="198.36" y="405.5" width="1" height="12.2" fill="#e85a5a"/>
<rect x="203.78" y="405.9" width="1" height="11.8" fill="#e85a5a"/>
<rect x="209.20" y="404.4" width="1" height="13.3" fill="#e85a5a"/>
<rect x="214.62" y="403.1" width="1" height="14.6" fill="#e85a5a"/>
<rect x="220.04" y="401.2" width="1" height="16.5" fill="#e85a5a"/>
<rect x="225.46" y="398.8" width="1" height="18.9" fill="#e85a5a"/>
<rect x="230.88" y="400.3" width="1" height="17.4" fill="#e85a5a"/>
<rect x="236.30" y="403.1" width="1" height="14.6" fill="#e85a5a"/>
<rect x="241.72" y="407.5" width="1" height="10.2" fill="#e85a5a"/>
<rect x="247.15" y="412.7" width="1" height="5.0" fill="#e85a5a"/>
<rect x="252.57" y="414.3" width="1" height="3.4" fill="#e85a5a"/>
<rect x="257.99" y="414.3" width="1" height="3.4" fill="#e85a5a"/>
<rect x="263.41" y="417.7" width="1" height="4.7" fill="#3d9a5a"/>
<rect x="268.83" y="417.7" width="1" height="10.6" fill="#3d9a5a"/>
<rect x="274.25" y="417.7" width="1" height="19.3" fill="#3d9a5a"/>
<rect x="279.67" y="417.7" width="1" height="16.0" fill="#3d9a5a"/>
<rect x="285.09" y="417.7" width="1" height="23.6" fill="#3d9a5a"/>
<rect x="290.51" y="417.7" width="1" height="36.3" fill="#3d9a5a"/>
<rect x="295.93" y="417.7" width="1" height="43.0" fill="#3d9a5a"/>
<rect x="301.36" y="417.7" width="1" height="45.7" fill="#3d9a5a"/>
<rect x="306.78" y="417.7" width="1" height="51.1" fill="#3d9a5a"/>
<rect x="312.20" y="417.7" width="1" height="52.5" fill="#3d9a5a"/>
<rect x="317.62" y="417.7" width="1" height="59.2" fill="#3d9a5a"/>
<rect x="323.04" y="417.7" width="1" height="59.2" fill="#3d9a5a"/>
<rect x="328.46" y="417.7" width="1" height="55.2" fill="#3d9a5a"/>
<rect x="333.88" y="417.7" width="1" height="51.1" fill="#3d9a5a"/>
<rect x="339.30" y="417.7" width="1" height="45.2" fill="#3d9a5a"/>
<rect x="344.72" y="417.7" width="1" height="30.9" fill="#3d9a5a"/>
<rect x="350.14" y="417.7" width="1" height="17.4" fill="#3d9a5a"/>
<rect x="355.56" y="417.7" width="1" height="4.7" fill="#3d9a5a"/>
<rect x="360.99" y="413.0" width="1" height="4.7" fill="#e85a5a"/>
<rect x="366.41" y="404.0" width="1" height="13.7" fill="#e85a5a"/>
<rect x="371.83" y="401.8" width="1" height="15.9" fill="#e85a5a"/>
<rect x="377.25" y="400.0" width="1" height="17.7" fill="#e85a5a"/>
<rect x="382.67" y="396.4" width="1" height="21.3" fill="#e85a5a"/>
<rect x="388.09" y="396.4" width="1" height="21.3" fill="#e85a5a"/>
<rect x="393.51" y="396.4" width="1" height="21.3" fill="#e85a5a"/>
<rect x="398.93" y="399.1" width="1" height="18.6" fill="#e85a5a"/>
<rect x="404.35" y="402.7" width="1" height="15.0" fill="#e85a5a"/>
<rect x="409.78" y="410.0" width="1" height="7.7" fill="#e85a5a"/>
<rect x="415.20" y="417.7" width="1" height="3.9" fill="#3d9a5a"/>
<rect x="420.62" y="417.7" width="1" height="12.0" fill="#3d9a5a"/>
<rect x="426.04" y="417.7" width="1" height="16.6" fill="#3d9a5a"/>
<rect x="431.46" y="417.7" width="1" height="15.5" fill="#3d9a5a"/>
<rect x="436.88" y="417.7" width="1" height="12.8" fill="#3d9a5a"/>
<rect x="442.30" y="417.7" width="1" height="10.3" fill="#3d9a5a"/>
<rect x="447.72" y="417.7" width="1" height="20.5" fill="#3d9a5a"/>
<rect x="453.14" y="417.7" width="1" height="33.3" fill="#3d9a5a"/>
<rect x="458.56" y="417.7" width="1" height="37.9" fill="#3d9a5a"/>
<rect x="463.99" y="417.7" width="1" height="39.7" fill="#3d9a5a"/>
<rect x="469.41" y="417.7" width="1" height="36.7" fill="#3d9a5a"/>
<rect x="474.83" y="417.7" width="1" height="28.5" fill="#3d9a5a"/>
<rect x="480.25" y="417.7" width="1" height="18.1" fill="#3d9a5a"/>
<rect x="485.67" y="417.7" width="1" height="2.8" fill="#3d9a5a"/>
<rect x="491.09" y="408.1" width="1" height="9.6" fill="#e85a5a"/>
<rect x="496.51" y="394.5" width="1" height="23.2" fill="#e85a5a"/>
<rect x="501.93" y="382.9" width="1" height="34.8" fill="#e85a5a"/>
<rect x="507.35" y="377.3" width="1" height="40.4" fill="#e85a5a"/>
<rect x="512.77" y="372.4" width="1" height="45.3" fill="#e85a5a"/>
<rect x="518.20" y="375.0" width="1" height="42.7" fill="#e85a5a"/>
<rect x="523.62" y="380.7" width="1" height="37.0" fill="#e85a5a"/>
<rect x="529.04" y="386.2" width="1" height="31.5" fill="#e85a5a"/>
<rect x="534.46" y="389.8" width="1" height="27.9" fill="#e85a5a"/>
<rect x="539.88" y="392.2" width="1" height="25.5" fill="#e85a5a"/>
<rect x="545.30" y="394.5" width="1" height="23.2" fill="#e85a5a"/>
<rect x="550.72" y="393.9" width="1" height="23.8" fill="#e85a5a"/>
<rect x="556.14" y="397.2" width="1" height="20.5" fill="#e85a5a"/>
<rect x="561.56" y="400.5" width="1" height="17.2" fill="#e85a5a"/>
<rect x="566.98" y="399.4" width="1" height="18.3" fill="#e85a5a"/>
<rect x="572.41" y="398.7" width="1" height="19.0" fill="#e85a5a"/>
<rect x="577.83" y="391.1" width="1" height="26.6" fill="#e85a5a"/>
<rect x="583.25" y="394.2" width="1" height="23.5" fill="#e85a5a"/>
<rect x="588.67" y="398.9" width="1" height="18.8" fill="#e85a5a"/>
<rect x="594.09" y="403.2" width="1" height="14.5" fill="#e85a5a"/>
<rect x="599.51" y="405.0" width="1" height="12.7" fill="#e85a5a"/>
<rect x="604.93" y="403.5" width="1" height="14.2" fill="#e85a5a"/>
<rect x="610.35" y="410.1" width="1" height="7.6" fill="#e85a5a"/>
<rect x="615.77" y="417.7" width="1" height="1.7" fill="#3d9a5a"/>
<rect x="621.19" y="417.7" width="1" height="10.1" fill="#3d9a5a"/>
<rect x="626.62" y="417.7" width="1" height="11.0" fill="#3d9a5a"/>
<rect x="632.04" y="417.7" width="1" height="16.6" fill="#3d9a5a"/>
<rect x="637.46" y="417.7" width="1" height="13.8" fill="#3d9a5a"/>
<rect x="642.88" y="417.7" width="1" height="11.6" fill="#3d9a5a"/>
<rect x="648.30" y="417.7" width="1" height="4.5" fill="#3d9a5a"/>
<rect x="659.14" y="417.7" width="1" height="3.0" fill="#3d9a5a"/>
<rect x="664.56" y="417.7" width="1" height="3.5" fill="#3d9a5a"/>
<rect x="669.98" y="417.7" width="1" height="6.0" fill="#3d9a5a"/>
<rect x="675.40" y="417.7" width="1" height="8.2" fill="#3d9a5a"/>
<rect x="680.83" y="417.7" width="1" height="1.3" fill="#3d9a5a"/>
<rect x="686.25" y="415.3" width="1" height="2.4" fill="#e85a5a"/>
<rect x="691.67" y="414.6" width="1" height="3.1" fill="#e85a5a"/>
<rect x="697.09" y="413.5" width="1" height="4.2" fill="#e85a5a"/>
<rect x="707.93" y="417.7" width="1" height="8.1" fill="#3d9a5a"/>
<rect x="713.35" y="417.7" width="1" height="8.1" fill="#3d9a5a"/>
<rect x="718.77" y="417.7" width="1" height="13.3" fill="#3d9a5a"/>
<rect x="724.19" y="417.7" width="1" height="15.9" fill="#3d9a5a"/>
<rect x="729.61" y="417.7" width="1" height="19.3" fill="#3d9a5a"/>
<rect x="735.04" y="417.7" width="1" height="22.2" fill="#3d9a5a"/>
<rect x="740.46" y="417.7" width="1" height="17.7" fill="#3d9a5a"/>
<rect x="745.88" y="417.7" width="1" height="15.5" fill="#3d9a5a"/>
<rect x="751.30" y="417.7" width="1" height="13.3" fill="#3d9a5a"/>
<rect x="756.72" y="417.7" width="1" height="10.3" fill="#3d9a5a"/>
<rect x="762.14" y="417.7" width="1" height="5.9" fill="#3d9a5a"/>
<rect x="767.56" y="417.7" width="1" height="9.7" fill="#3d9a5a"/>
<rect x="772.98" y="417.7" width="1" height="11.5" fill="#3d9a5a"/>
<rect x="778.40" y="417.7" width="1" height="24.9" fill="#3d9a5a"/>
<rect x="783.82" y="417.7" width="1" height="33.4" fill="#3d9a5a"/>
<rect x="789.25" y="417.7" width="1" height="35.6" fill="#3d9a5a"/>
<rect x="794.67" y="417.7" width="1" height="34.9" fill="#3d9a5a"/>
<rect x="800.09" y="417.7" width="1" height="29.9" fill="#3d9a5a"/>
<rect x="805.51" y="417.7" width="1" height="24.9" fill="#3d9a5a"/>
<rect x="810.93" y="417.7" width="1" height="14.8" fill="#3d9a5a"/>
<rect x="821.77" y="406.4" width="1" height="11.3" fill="#e85a5a"/>
<rect x="827.19" y="397.9" width="1" height="19.8" fill="#e85a5a"/>
<rect x="832.61" y="398.3" width="1" height="19.4" fill="#e85a5a"/>
<rect x="838.03" y="397.9" width="1" height="19.8" fill="#e85a5a"/>
<rect x="843.46" y="399.7" width="1" height="18.0" fill="#e85a5a"/>
<rect x="848.88" y="400.6" width="1" height="17.1" fill="#e85a5a"/>
<rect x="854.30" y="402.3" width="1" height="15.4" fill="#e85a5a"/>
<rect x="859.72" y="400.6" width="1" height="17.1" fill="#e85a5a"/>
<rect x="865.14" y="411.7" width="1" height="6.0" fill="#e85a5a"/>
<rect x="870.56" y="417.7" width="1" height="5.2" fill="#3d9a5a"/>
<rect x="875.98" y="417.7" width="1" height="1.4" fill="#3d9a5a"/>
<rect x="886.82" y="413.1" width="1" height="4.6" fill="#e85a5a"/>
<rect x="892.24" y="405.0" width="1" height="12.7" fill="#e85a5a"/>
<rect x="897.67" y="400.6" width="1" height="17.1" fill="#e85a5a"/>
<rect x="903.09" y="397.4" width="1" height="20.3" fill="#e85a5a"/>
<rect x="908.51" y="386.7" width="1" height="31.0" fill="#e85a5a"/>
<rect x="913.93" y="378.3" width="1" height="39.4" fill="#e85a5a"/>
<rect x="919.35" y="372.1" width="1" height="45.6" fill="#e85a5a"/>
<rect x="924.77" y="372.1" width="1" height="45.6" fill="#e85a5a"/>
<rect x="930.19" y="370.3" width="1" height="47.4" fill="#e85a5a"/>
<rect x="935.61" y="369.9" width="1" height="47.8" fill="#e85a5a"/>
<rect x="941.03" y="375.9" width="1" height="41.8" fill="#e85a5a"/>
<rect x="946.45" y="382.6" width="1" height="35.1" fill="#e85a5a"/>
<rect x="951.88" y="388.5" width="1" height="29.2" fill="#e85a5a"/>
<rect x="957.30" y="392.2" width="1" height="25.5" fill="#e85a5a"/>
<rect x="962.72" y="401.9" width="1" height="15.8" fill="#e85a5a"/>
<rect x="968.14" y="413.1" width="1" height="4.6" fill="#e85a5a"/>
<rect x="973.56" y="417.7" width="1" height="1.5" fill="#3d9a5a"/>
<rect x="978.98" y="417.7" width="1" height="5.3" fill="#3d9a5a"/>
<rect x="984.40" y="417.7" width="1" height="5.8" fill="#3d9a5a"/>
<rect x="989.82" y="417.7" width="1" height="6.5" fill="#3d9a5a"/>
<polyline fill="none" stroke="#4f4fa6" stroke-width="1.0" points="3.7,398.8 11.2,396.6 19.6,391.9 26.1,383.5 33.5,376.0 42.9,367.7 48.4,362.1 53.1,359.3 57.8,360.2 63.4,365.8 68.9,370.5 74.5,374.2 82.0,378.0 91.3,382.6 100.6,387.3 110.0,392.9 117.4,398.8 121.1,397.5 123.7,395.6 129.3,390.0 134.9,386.3 140.5,385.0 146.1,386.9 151.7,391.4 157.3,393.2 164.7,392.9 172.2,394.3 177.8,392.5 183.4,387.3 188.9,382.6 196.4,379.4 203.8,377.0 211.3,373.3 218.8,367.7 226.2,361.2 233.7,358.4 241.1,359.3 248.1,360.3 258.9,358.6 265.7,364.9 273.8,377.0 280.5,379.2 285.9,389.2 294.0,406.7 302.1,421.6 310.2,439.1 318.3,458.0 326.4,472.9 334.5,485.0 339.9,489.1 345.3,486.4 353.4,479.6 360.0,474.8 368.1,466.1 377.6,462.1 384.3,455.9 392.4,449.9 403.2,445.1 410.0,447.2 416.7,456.7 424.8,464.8 432.9,467.5 441.0,466.7 446.4,472.9 451.8,487.7 458.9,503.3 467.0,511.4 473.8,513.3 480.5,510.0 488.6,499.2 496.7,485.7 504.8,470.9 512.9,456.0 521.0,447.9 529.1,442.5 537.2,436.6 545.3,429.0 553.4,423.1 560.0,420.3 567.5,416.6 573.0,411.9 578.6,400.7 584.2,399.4 589.8,398.3 595.4,398.3 600.1,397.0 605.6,392.4 610.3,394.2 615.9,400.7 621.5,406.3 627.1,410.1 632.7,414.3 638.3,414.3 643.8,414.3 653.2,408.8 660.6,412.5 668.1,416.6 675.5,420.3 680.0,418.0 686.7,411.3 695.6,408.6 701.2,411.3 707.9,420.2 713.5,423.6 720.2,428.0 726.9,434.7 733.6,440.3 740.3,441.5 747.0,445.9 753.7,447.0 761.6,445.3 767.2,451.5 773.9,456.0 779.4,469.4 785.0,481.7 791.7,487.3 798.4,491.7 805.6,498.0 813.4,487.3 820.1,478.3 826.8,470.5 835.8,467.6 844.7,463.8 853.6,460.0 860.3,453.7 865.9,461.6 871.5,468.3 878.2,464.5 884.9,459.3 891.6,451.1 898.3,444.8 902.8,440.3 909.9,425.8 917.3,409.9 924.8,396.0 932.2,382.9 936.9,377.7 943.4,374.5 950.9,369.9 958.3,365.2 964.8,369.0 971.3,373.6 976.9,376.4 984.4,377.0 990.3,377.7"/>
<path fill="none" stroke="#d41c1c" stroke-width="2.0" stroke-linejoin="round" d="M3.7,428.3 C5.0,427.2 8.7,424.2 11.2,421.7 C13.7,419.2 16.1,416.0 18.6,413.4 C21.1,410.8 23.6,408.5 26.1,405.9 C28.6,403.2 31.0,400.1 33.5,397.5 C36.0,394.9 38.5,392.3 41.0,390.0 C43.5,387.7 45.9,385.7 48.4,383.5 C50.9,381.3 53.4,378.9 55.9,377.0 C58.4,375.1 60.9,373.3 63.4,372.0 C65.9,370.7 68.3,369.8 70.8,369.2 C73.3,368.6 75.8,368.2 78.3,368.1 C80.8,368.0 83.2,368.1 85.7,368.6 C88.2,369.2 90.7,370.3 93.2,371.4 C95.7,372.5 98.1,373.8 100.6,375.2 C103.1,376.6 105.6,378.2 108.1,379.8 C110.6,381.4 113.3,383.2 115.5,384.5 C117.7,385.8 119.4,386.8 121.1,387.6 C122.8,388.4 123.9,388.9 125.6,389.5 C127.3,390.1 128.4,390.8 131.2,391.0 C134.0,391.2 138.1,391.0 142.4,391.0 C146.8,391.0 152.3,391.1 157.3,391.0 C162.3,390.9 167.8,390.7 172.2,390.6 C176.5,390.5 180.0,390.7 183.4,390.6 C186.8,390.5 189.9,390.4 192.7,390.0 C195.5,389.6 197.6,389.0 200.1,388.2 C202.6,387.4 205.1,386.5 207.6,385.4 C210.1,384.3 212.5,383.1 215.0,381.7 C217.5,380.3 220.0,378.6 222.5,377.0 C225.0,375.4 227.4,373.8 229.9,372.4 C232.4,371.0 234.9,369.8 237.4,368.6 C239.9,367.4 242.8,366.3 245.0,365.4 C247.2,364.5 248.0,363.8 250.8,363.0 C253.6,362.2 258.5,361.1 261.6,360.8 C264.8,360.5 266.6,360.4 269.7,361.3 C272.8,362.2 276.9,364.0 280.5,366.2 C284.1,368.4 287.7,370.9 291.3,374.3 C294.9,377.7 298.5,382.0 302.1,386.5 C305.7,391.0 309.8,396.4 312.9,401.3 C316.0,406.2 318.3,410.8 321.0,416.2 C323.7,421.6 326.4,428.1 329.1,433.7 C331.8,439.3 334.5,444.9 337.2,449.9 C339.9,454.8 342.6,459.6 345.3,463.4 C348.0,467.2 350.7,470.6 353.4,472.9 C356.1,475.2 358.6,476.3 361.5,477.0 C364.4,477.7 367.4,477.7 370.8,476.9 C374.2,476.1 378.0,474.1 381.6,472.1 C385.2,470.1 388.8,467.2 392.4,464.8 C396.0,462.4 399.6,459.4 403.2,457.5 C406.8,455.6 410.4,453.9 414.0,453.2 C417.6,452.5 421.2,452.8 424.8,453.2 C428.4,453.6 432.0,454.8 435.6,455.9 C439.2,456.9 443.0,457.0 446.4,459.5 C449.8,462.0 452.8,467.0 456.2,470.9 C459.6,474.8 463.4,479.2 467.0,483.0 C470.6,486.8 474.2,490.9 477.8,493.8 C481.4,496.7 485.5,499.2 488.6,500.6 C491.8,502.0 494.0,502.3 496.7,501.9 C499.4,501.4 502.1,500.1 504.8,497.9 C507.5,495.6 510.2,491.8 512.9,488.4 C515.6,485.0 517.9,481.7 521.0,477.6 C524.1,473.6 528.2,468.4 531.8,464.1 C535.4,459.8 539.0,455.8 542.6,452.0 C546.2,448.2 550.5,443.9 553.4,441.2 C556.3,438.5 557.6,437.4 560.0,435.6 C562.4,433.8 565.0,432.4 567.5,430.6 C570.0,428.8 572.4,427.0 574.9,425.0 C577.4,423.0 579.9,420.8 582.4,418.8 C584.9,416.8 587.3,414.8 589.8,412.9 C592.3,411.0 594.8,408.9 597.3,407.3 C599.8,405.7 602.2,404.4 604.7,403.2 C607.2,402.0 609.7,400.9 612.2,400.2 C614.7,399.5 617.4,399.0 619.6,398.9 C621.8,398.8 623.3,398.9 625.2,399.3 C627.1,399.7 628.6,400.5 630.8,401.3 C633.0,402.1 635.8,403.1 638.3,403.9 C640.8,404.6 643.2,405.1 645.7,405.8 C648.2,406.5 650.7,407.4 653.2,408.2 C655.7,409.0 658.1,409.8 660.6,410.6 C663.1,411.4 665.6,412.3 668.1,412.9 C670.6,413.5 673.2,414.1 675.5,414.3 C677.8,414.5 679.8,414.1 682.0,414.0 C684.2,413.9 686.2,414.1 688.9,414.0 C691.5,413.9 695.3,413.1 697.9,413.1 C700.5,413.1 702.0,413.6 704.6,414.0 C707.2,414.4 710.1,415.2 713.5,415.8 C716.9,416.4 721.7,416.6 724.7,417.5 C727.7,418.4 729.2,419.8 731.4,421.3 C733.6,422.8 735.5,424.6 738.1,426.5 C740.7,428.4 744.0,430.6 747.0,432.5 C750.0,434.4 753.0,436.1 756.0,437.7 C759.0,439.3 761.9,440.7 764.9,442.1 C767.9,443.5 770.9,444.1 773.9,445.9 C776.9,447.6 779.8,450.4 782.8,452.6 C785.8,454.8 789.1,457.1 791.7,459.3 C794.3,461.5 795.9,463.4 798.4,466.0 C800.9,468.6 804.2,472.4 806.7,475.0 C809.2,477.6 810.8,480.0 813.4,481.7 C816.0,483.4 819.3,484.4 822.3,485.0 C825.3,485.6 828.3,485.4 831.3,485.0 C834.3,484.6 837.2,483.9 840.2,482.8 C843.2,481.7 846.2,480.2 849.2,478.3 C852.2,476.4 855.1,473.8 858.1,471.6 C861.1,469.4 864.0,466.3 867.0,464.9 C870.0,463.5 873.0,463.6 876.0,463.1 C879.0,462.7 881.9,462.7 884.9,462.2 C887.9,461.7 890.9,461.0 893.9,460.0 C896.9,459.0 899.5,458.3 902.8,456.0 C906.1,453.7 910.2,450.0 913.6,446.2 C917.0,442.4 919.8,437.7 922.9,433.2 C926.0,428.7 929.1,423.8 932.2,419.2 C935.3,414.6 938.4,409.8 941.5,405.3 C944.6,400.8 947.8,396.1 950.9,392.2 C954.0,388.3 957.1,384.9 960.2,382.0 C963.3,379.1 966.7,376.6 969.5,375.1 C972.3,373.6 974.4,373.6 976.9,373.2 C979.4,372.8 982.2,372.8 984.4,372.7 C986.6,372.6 989.3,372.7 990.3,372.7"/>
</g>
<rect x="3.6" y="147.2" width="2.6" height="2.6" fill="#fff8f0" stroke="#b01818" stroke-width="0.9"/>
<rect x="1244.3" y="147.0" width="3" height="3" fill="#fffff0" stroke="#d02020" stroke-width="0.8"/>
<rect x="3.6" y="180.2" width="2.6" height="2.6" fill="#fff8f0" stroke="#b01818" stroke-width="0.9"/>
<rect x="1244.3" y="180.0" width="3" height="3" fill="#fffff0" stroke="#d02020" stroke-width="0.8"/>
<rect x="3.6" y="243.2" width="2.6" height="2.6" fill="#fff8f0" stroke="#b01818" stroke-width="0.9"/>
<rect x="1244.3" y="243.0" width="3" height="3" fill="#fffff0" stroke="#d02020" stroke-width="0.8"/>
<rect x="3.6" y="279.7" width="2.6" height="2.6" fill="#fff8f0" stroke="#b01818" stroke-width="0.9"/>
<rect x="1244.3" y="279.5" width="3" height="3" fill="#fffff0" stroke="#d02020" stroke-width="0.8"/>
<rect x="1247" y="4" width="1" height="518" fill="#7a786c"/>
<rect x="4" y="521" width="1244" height="1" fill="#58584c"/>
<rect x="4" y="347" width="1244" height="1" fill="#c8c8ba"/>
<rect x="4" y="348" width="1244" height="1" fill="#8a8a7c"/>
<rect x="4" y="349" width="1244" height="1" fill="#4a4a3e"/>
<text transform="translate(6.10,10.60) scale(0.915,1)" font-size="7.00" fill="#222" class="t">GBPUSD,H4</text>
<text transform="translate(47.20,10.60) scale(0.890,1)" font-size="7.00" fill="#222" class="t">1.34335 1.34367 1.34266 1.34352</text>
<text transform="translate(6.10,357.60) scale(0.910,1)" font-size="7.00" fill="#222" class="t">MACD(12,26,9)</text>
<text transform="translate(52.00,357.60) scale(0.900,1)" font-size="7.00" fill="#222" class="t">0.001957 0.002203 0.000000 -0.000319</text>
<polygon points="994.8,3.5 1000.6,3.5 997.7,6.6" fill="#000"/>
<rect x="1248" y="10.0" width="2" height="0.9" fill="#333"/>
<text transform="translate(1251.60,13.40) scale(0.862,1)" font-size="7.00" fill="#222" class="t">1.37400</text>
<rect x="1248" y="32.1" width="2" height="0.9" fill="#333"/>
<text transform="translate(1251.60,35.48) scale(0.862,1)" font-size="7.00" fill="#222" class="t">1.37070</text>
<rect x="1248" y="54.8" width="2" height="0.9" fill="#333"/>
<text transform="translate(1251.60,58.22) scale(0.862,1)" font-size="7.00" fill="#222" class="t">1.36730</text>
<rect x="1248" y="76.9" width="2" height="0.9" fill="#333"/>
<text transform="translate(1251.60,80.30) scale(0.862,1)" font-size="7.00" fill="#222" class="t">1.36400</text>
<rect x="1248" y="99.0" width="2" height="0.9" fill="#333"/>
<text transform="translate(1251.60,102.38) scale(0.862,1)" font-size="7.00" fill="#222" class="t">1.36070</text>
<rect x="1248" y="121.7" width="2" height="0.9" fill="#333"/>
<text transform="translate(1251.60,125.12) scale(0.862,1)" font-size="7.00" fill="#222" class="t">1.35730</text>
<rect x="1248" y="143.8" width="2" height="0.9" fill="#333"/>
<text transform="translate(1251.60,147.20) scale(0.862,1)" font-size="7.00" fill="#222" class="t">1.35400</text>
<rect x="1248" y="166.5" width="2" height="0.9" fill="#333"/>
<text transform="translate(1251.60,169.95) scale(0.862,1)" font-size="7.00" fill="#222" class="t">1.35060</text>
<rect x="1248" y="188.6" width="2" height="0.9" fill="#333"/>
<text transform="translate(1251.60,192.02) scale(0.862,1)" font-size="7.00" fill="#222" class="t">1.34730</text>
<rect x="1248" y="210.7" width="2" height="0.9" fill="#333"/>
<text transform="translate(1251.60,214.10) scale(0.862,1)" font-size="7.00" fill="#222" class="t">1.34400</text>
<rect x="1248" y="233.4" width="2" height="0.9" fill="#333"/>
<text transform="translate(1251.60,236.85) scale(0.862,1)" font-size="7.00" fill="#222" class="t">1.34060</text>
<rect x="1248" y="256.2" width="2" height="0.9" fill="#333"/>
<text transform="translate(1251.60,259.59) scale(0.862,1)" font-size="7.00" fill="#222" class="t">1.33720</text>
<rect x="1248" y="278.3" width="2" height="0.9" fill="#333"/>
<text transform="translate(1251.60,281.67) scale(0.862,1)" font-size="7.00" fill="#222" class="t">1.33390</text>
<rect x="1248" y="301.0" width="2" height="0.9" fill="#333"/>
<text transform="translate(1251.60,304.42) scale(0.862,1)" font-size="7.00" fill="#222" class="t">1.33050</text>
<rect x="1248" y="323.1" width="2" height="0.9" fill="#333"/>
<text transform="translate(1251.60,326.49) scale(0.862,1)" font-size="7.00" fill="#222" class="t">1.32720</text>
<rect x="1248" y="345.2" width="2" height="0.9" fill="#333"/>
<text transform="translate(1251.60,348.57) scale(0.862,1)" font-size="7.00" fill="#222" class="t">1.32390</text>
<rect x="1248.3" y="145.2" width="29" height="6.8" fill="#e81010"/>
<text transform="translate(1251.00,151.00) scale(0.862,1)" font-size="7.00" fill="#fff" class="w">1.35335</text>
<rect x="1248.3" y="177.6" width="29" height="6.8" fill="#e81010"/>
<text transform="translate(1251.00,183.40) scale(0.862,1)" font-size="7.00" fill="#fff" class="w">1.34849</text>
<rect x="1248.3" y="210.6" width="29" height="6.8" fill="#111"/>
<text transform="translate(1251.00,216.40) scale(0.862,1)" font-size="7.00" fill="#fff" class="w">1.34352</text>
<rect x="1248.3" y="240.7" width="29" height="6.8" fill="#e81010"/>
<text transform="translate(1251.00,246.50) scale(0.862,1)" font-size="7.00" fill="#fff" class="w">1.33908</text>
<rect x="1248.3" y="277.2" width="29" height="6.8" fill="#e81010"/>
<text transform="translate(1251.00,283.00) scale(0.862,1)" font-size="7.00" fill="#fff" class="w">1.33362</text>
<text transform="translate(1249.40,357.00) scale(0.862,1)" font-size="7.00" fill="#222" class="t">0.003303</text>
<rect x="1248" y="417.6" width="2" height="0.9" fill="#333"/>
<text transform="translate(1251.30,420.50) scale(0.862,1)" font-size="7.00" fill="#222" class="t">0.00</text>
<rect x="1248" y="516.8" width="2" height="0.9" fill="#333"/>
<text transform="translate(1250.10,519.50) scale(0.862,1)" font-size="7.00" fill="#222" class="t">-0.00506</text>
<rect x="2.9" y="521" width="0.9" height="2.2" fill="#333"/>
<text transform="translate(2.90,529.90) scale(0.905,1)" font-size="7.00" fill="#222" class="t">5 Sep 2025</text>
<rect x="46.3" y="521" width="0.9" height="2.2" fill="#333"/>
<text transform="translate(46.17,529.90) scale(0.905,1)" font-size="7.00" fill="#222" class="t">9 Sep 04:00</text>
<rect x="89.7" y="521" width="0.9" height="2.2" fill="#333"/>
<text transform="translate(89.54,529.90) scale(0.905,1)" font-size="7.00" fill="#222" class="t">10 Sep 12:00</text>
<rect x="133.1" y="521" width="0.9" height="2.2" fill="#333"/>
<text transform="translate(132.91,529.90) scale(0.905,1)" font-size="7.00" fill="#222" class="t">11 Sep 20:00</text>
<rect x="176.4" y="521" width="0.9" height="2.2" fill="#333"/>
<text transform="translate(176.28,529.90) scale(0.905,1)" font-size="7.00" fill="#222" class="t">15 Sep 04:00</text>
<rect x="219.8" y="521" width="0.9" height="2.2" fill="#333"/>
<text transform="translate(219.65,529.90) scale(0.905,1)" font-size="7.00" fill="#222" class="t">16 Sep 12:00</text>
<rect x="263.2" y="521" width="0.9" height="2.2" fill="#333"/>
<text transform="translate(263.02,529.90) scale(0.905,1)" font-size="7.00" fill="#222" class="t">17 Sep 20:00</text>
<rect x="306.5" y="521" width="0.9" height="2.2" fill="#333"/>
<text transform="translate(306.39,529.90) scale(0.905,1)" font-size="7.00" fill="#222" class="t">19 Sep 04:00</text>
<rect x="349.9" y="521" width="0.9" height="2.2" fill="#333"/>
<text transform="translate(349.76,529.90) scale(0.905,1)" font-size="7.00" fill="#222" class="t">22 Sep 12:00</text>
<rect x="393.3" y="521" width="0.9" height="2.2" fill="#333"/>
<text transform="translate(393.13,529.90) scale(0.905,1)" font-size="7.00" fill="#222" class="t">23 Sep 20:00</text>
<rect x="436.6" y="521" width="0.9" height="2.2" fill="#333"/>
<text transform="translate(436.50,529.90) scale(0.905,1)" font-size="7.00" fill="#222" class="t">25 Sep 04:00</text>
<rect x="480.0" y="521" width="0.9" height="2.2" fill="#333"/>
<text transform="translate(479.87,529.90) scale(0.905,1)" font-size="7.00" fill="#222" class="t">26 Sep 12:00</text>
<rect x="523.4" y="521" width="0.9" height="2.2" fill="#333"/>
<text transform="translate(523.24,529.90) scale(0.905,1)" font-size="7.00" fill="#222" class="t">29 Sep 20:00</text>
<rect x="566.8" y="521" width="0.9" height="2.2" fill="#333"/>
<text transform="translate(566.61,529.90) scale(0.905,1)" font-size="7.00" fill="#222" class="t">1 Oct 04:00</text>
<rect x="610.1" y="521" width="0.9" height="2.2" fill="#333"/>
<text transform="translate(609.98,529.90) scale(0.905,1)" font-size="7.00" fill="#222" class="t">2 Oct 12:00</text>
<rect x="653.5" y="521" width="0.9" height="2.2" fill="#333"/>
<text transform="translate(653.35,529.90) scale(0.905,1)" font-size="7.00" fill="#222" class="t">3 Oct 20:00</text>
<rect x="696.9" y="521" width="0.9" height="2.2" fill="#333"/>
<text transform="translate(696.72,529.90) scale(0.905,1)" font-size="7.00" fill="#222" class="t">7 Oct 04:00</text>
<rect x="740.2" y="521" width="0.9" height="2.2" fill="#333"/>
<text transform="translate(740.09,529.90) scale(0.905,1)" font-size="7.00" fill="#222" class="t">8 Oct 12:00</text>
<rect x="783.6" y="521" width="0.9" height="2.2" fill="#333"/>
<text transform="translate(783.46,529.90) scale(0.905,1)" font-size="7.00" fill="#222" class="t">9 Oct 20:00</text>
<rect x="827.0" y="521" width="0.9" height="2.2" fill="#333"/>
<text transform="translate(826.83,529.90) scale(0.905,1)" font-size="7.00" fill="#222" class="t">13 Oct 04:00</text>
<rect x="870.3" y="521" width="0.9" height="2.2" fill="#333"/>
<text transform="translate(870.20,529.90) scale(0.905,1)" font-size="7.00" fill="#222" class="t">14 Oct 12:00</text>
<rect x="913.7" y="521" width="0.9" height="2.2" fill="#333"/>
<text transform="translate(913.57,529.90) scale(0.905,1)" font-size="7.00" fill="#222" class="t">15 Oct 20:00</text>
<rect x="957.1" y="521" width="0.9" height="2.2" fill="#333"/>
<text transform="translate(956.94,529.90) scale(0.905,1)" font-size="7.00" fill="#222" class="t">17 Oct 04:00</text>
<rect x="1136" y="496" width="110.5" height="23" fill="#ffffff" opacity="0.5"/>
<g fill="none" stroke="#1e1e1e" stroke-width="1.35" stroke-linecap="round"><path d="M1150.1,499.5 C1148.3,499.9 1146.3,500.9 1145.4,503.3 C1144.7,505.5 1144.3,510 1143.4,513.8"/><path d="M1142.3,505.6 L1143.2,505.5"/><path d="M1154.3,497.6 C1156.4,500 1157,504 1156.3,508.5 C1155.8,511.5 1153.6,513.3 1150.6,514 C1148.8,514.5 1147.8,515.6 1147.6,517.1"/></g>
<text x="1165.6" y="513.8" font-size="20" font-weight="200" fill="#8e8e88" style="font-family:'DejaVu Sans',sans-serif">@WeTrade</text>
<text x="1165" y="513.2" font-size="20" font-weight="200" fill="#ffffff" stroke="#b0b0aa" stroke-width="0.3" style="font-family:'DejaVu Sans',sans-serif">@WeTrade</text>
</svg></body></html>
